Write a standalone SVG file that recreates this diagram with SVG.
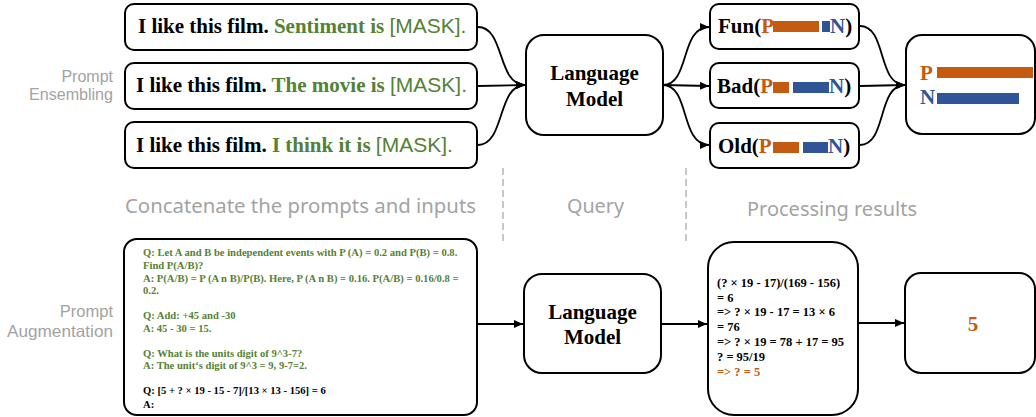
<svg xmlns="http://www.w3.org/2000/svg" width="1036" height="417" viewBox="0 0 1036 417">
<style>
.box{fill:#fff;stroke:#000;stroke-width:2}
.bt{font-family:"Liberation Serif","Times New Roman",serif;font-weight:bold;fill:#000}
.g{fill:#548235}
.o{fill:#C55A11}
.b{fill:#2F5597}
.mask{font-family:"Liberation Sans",Arial,sans-serif;font-weight:normal;fill:#548235}
.lbl{font-family:"Noto Sans","Liberation Sans",Arial,sans-serif;fill:#A3A3A3}
.side{font-family:"Liberation Sans",Arial,sans-serif;fill:#A3A3A3}
.conn{fill:none;stroke:#000;stroke-width:1.8}
.dash{stroke:#C8C8C8;stroke-width:2;stroke-dasharray:7 4;fill:none}
</style>
<defs>
<marker id="ah" markerUnits="userSpaceOnUse" markerWidth="10" markerHeight="8" refX="9" refY="4" orient="auto">
<path d="M0,0 L9,4 L0,8 Z" fill="#000"/>
</marker>
</defs>

<!-- side labels -->
<g id="label-ensembling">
<text class="side" font-size="16" text-anchor="end" x="113" y="82">Prompt</text>
<text class="side" font-size="16" text-anchor="end" x="113" y="100" textLength="84" lengthAdjust="spacingAndGlyphs">Ensembling</text>
</g>
<g id="label-augmentation">
<text class="side" font-size="16.5" text-anchor="end" x="113" y="317">Prompt</text>
<text class="side" font-size="16.5" text-anchor="end" x="113" y="337" textLength="106" lengthAdjust="spacingAndGlyphs">Augmentation</text>
</g>

<!-- section headers -->
<g id="headers">
<text class="lbl" font-size="20" x="125" y="213" textLength="351" lengthAdjust="spacingAndGlyphs">Concatenate the prompts and inputs</text>
<text class="lbl" font-size="20" x="567" y="213" textLength="57" lengthAdjust="spacingAndGlyphs">Query</text>
<text class="lbl" font-size="20" x="747" y="216" textLength="170" lengthAdjust="spacingAndGlyphs">Processing results</text>
<line class="dash" x1="503" y1="168" x2="503" y2="241"/>
<line class="dash" x1="686" y1="168" x2="686" y2="241"/>
</g>

<!-- prompt boxes -->
<g id="prompt1">
<rect class="box" x="125" y="4" width="352" height="46" rx="9"/>
<text class="bt" font-size="21" x="138" y="33">I like this film. <tspan class="g">Sentiment is</tspan> <tspan class="mask" font-size="21">[MASK].</tspan></text>
</g>
<g id="prompt2">
<rect class="box" x="125" y="63" width="352" height="46" rx="9"/>
<text class="bt" font-size="21" x="136" y="92">I like this film. <tspan class="g">The movie is</tspan> <tspan class="mask" font-size="21">[MASK].</tspan></text>
</g>
<g id="prompt3">
<rect class="box" x="125" y="122" width="352" height="46" rx="9"/>
<text class="bt" font-size="21" x="136" y="152">I like this film. <tspan class="g">I think it is</tspan> <tspan class="mask" font-size="21">[MASK].</tspan></text>
</g>

<!-- LM top -->
<g id="lm-top">
<rect class="box" x="526" y="35" width="137" height="100" rx="18"/>
<text class="bt" font-size="21" text-anchor="middle" x="594.5" y="80">Language</text>
<text class="bt" font-size="21" text-anchor="middle" x="594.5" y="106">Model</text>
</g>

<!-- answer boxes -->
<g id="ans-fun">
<rect class="box" x="710" y="4" width="149" height="45" rx="9"/>
<text class="bt" font-size="21" x="718" y="33">Fun(<tspan class="o">P</tspan></text>
<rect class="o" x="773" y="21" width="46" height="11"/>
<rect class="b" x="822" y="21" width="8" height="11"/>
<text class="bt" font-size="21" x="830" y="33"><tspan class="b">N</tspan>)</text>
</g>
<g id="ans-bad">
<rect class="box" x="710" y="63" width="149" height="45" rx="9"/>
<text class="bt" font-size="21" x="717" y="93">Bad(<tspan class="o">P</tspan></text>
<rect class="o" x="773" y="82" width="16" height="11"/>
<rect class="b" x="793" y="82" width="36" height="11"/>
<text class="bt" font-size="21" x="829" y="93"><tspan class="b">N</tspan>)</text>
</g>
<g id="ans-old">
<rect class="box" x="710" y="123" width="149" height="45" rx="9"/>
<text class="bt" font-size="21" x="718" y="153">Old(<tspan class="o">P</tspan></text>
<rect class="o" x="773" y="142" width="26" height="11"/>
<rect class="b" x="803" y="142" width="25" height="11"/>
<text class="bt" font-size="21" x="828" y="153"><tspan class="b">N</tspan>)</text>
</g>

<!-- result top -->
<g id="result-top">
<rect class="box" x="906" y="35" width="129" height="99" rx="16"/>
<text class="bt o" font-size="21" x="920" y="80">P</text>
<rect class="o" x="937" y="67" width="96" height="11"/>
<text class="bt b" font-size="21" x="920" y="104">N</text>
<rect class="b" x="937" y="93" width="82" height="11"/>
</g>

<!-- bottom prompt box -->
<g id="aug-prompt">
<rect class="box" x="124" y="239" width="353" height="176" rx="13"/>
<g class="bt" font-size="10.6">
<text class="g" x="143" y="256">Q: Let A and B be independent events with P (A) = 0.2 and P(B) = 0.8.</text>
<text class="g" x="143" y="269">Find P(A/B)?</text>
<text class="g" x="143" y="282">A: P(A/B) = P (A n B)/P(B). Here, P (A n B) = 0.16. P(A/B) = 0.16/0.8 =</text>
<text class="g" x="143" y="294">0.2.</text>
<text class="g" x="143" y="319">Q: Add: +45 and -30</text>
<text class="g" x="143" y="332">A: 45 - 30 = 15.</text>
<text class="g" x="143" y="357">Q: What is the units digit of 9^3-7?</text>
<text class="g" x="143" y="369">A: The unit‘s digit of 9^3 = 9, 9-7=2.</text>
<text x="143" y="394">Q: [5 + ? × 19 - 15 - 7]/[13 × 13 - 156] = 6</text>
<text x="143" y="408">A:</text>
</g>
</g>

<!-- LM bottom -->
<g id="lm-bottom">
<rect class="box" x="524" y="274" width="137" height="99" rx="18"/>
<text class="bt" font-size="21" text-anchor="middle" x="592.5" y="319">Language</text>
<text class="bt" font-size="21" text-anchor="middle" x="592.5" y="344">Model</text>
</g>

<!-- processing box -->
<g id="processing">
<rect class="box" x="708" y="242" width="150" height="173" rx="26"/>
<g class="bt" font-size="12.5">
<text x="717" y="287">(? × 19 - 17)/(169 - 156)</text>
<text x="717" y="302">= 6</text>
<text x="717" y="316">=&gt; ? × 19 - 17 = 13 × 6</text>
<text x="717" y="331">= 76</text>
<text x="717" y="346">=&gt; ? × 19 = 78 + 17 = 95</text>
<text x="717" y="361">? = 95/19</text>
<text class="o" x="717" y="376">=&gt; ? = 5</text>
</g>
</g>

<!-- result bottom -->
<g id="result-bottom">
<rect class="box" x="905" y="273" width="130" height="100" rx="16"/>
<text class="bt o" font-size="21" text-anchor="middle" x="973" y="331">5</text>
</g>

<!-- connectors -->
<g id="connectors">
<path class="conn" d="M478,27 C505,27 497,85 525,85" marker-end="url(#ah)"/>
<path class="conn" d="M478,86 L525,85" marker-end="url(#ah)"/>
<path class="conn" d="M478,145 C505,145 497,85 525,85" marker-end="url(#ah)"/>
<path class="conn" d="M663,85 C690,85 680,27 709,27" marker-end="url(#ah)"/>
<path class="conn" d="M663,85 L709,86" marker-end="url(#ah)"/>
<path class="conn" d="M663,85 C690,85 680,145 709,145" marker-end="url(#ah)"/>
<path class="conn" d="M860,26 C887,26 877,85 905,85" marker-end="url(#ah)"/>
<path class="conn" d="M860,86 L905,85" marker-end="url(#ah)"/>
<path class="conn" d="M860,145 C887,145 877,85 905,85" marker-end="url(#ah)"/>
<path class="conn" d="M478,324 L523,324" marker-end="url(#ah)"/>
<path class="conn" d="M662,324 L707,324" marker-end="url(#ah)"/>
<path class="conn" d="M859,323 L904,323" marker-end="url(#ah)"/>
</g>
</svg>
